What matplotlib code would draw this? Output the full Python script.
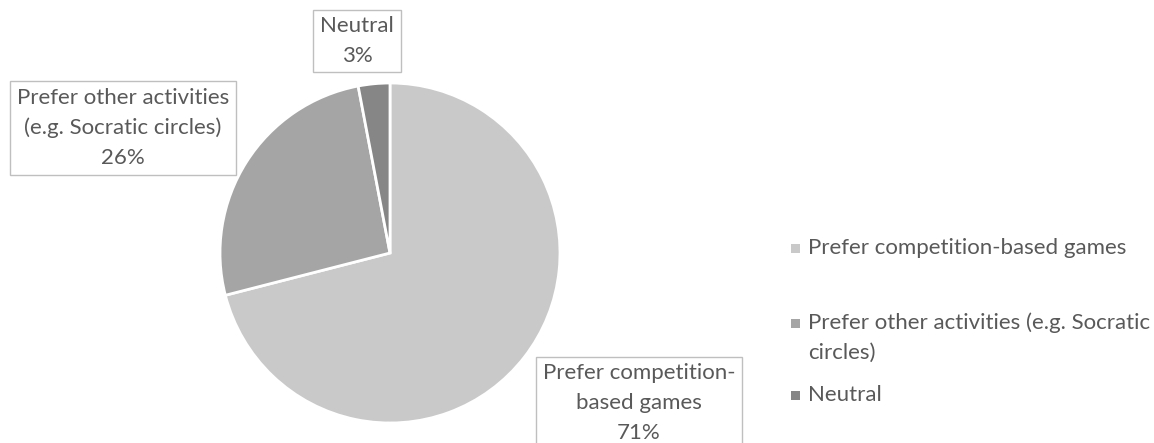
import matplotlib
matplotlib.use('Agg')
import matplotlib.pyplot as plt
from matplotlib.patches import Rectangle

# dados
categorias = ['Prefer competition-based games',
              'Prefer other activities (e.g. Socratic circles)',
              'Neutral']
valores = [71, 26, 3]
rotulos_legenda = ['Prefer competition-based games',
                   'Prefer other activities (e.g. Socratic\ncircles)',
                   'Neutral']
rotulos_fatia = ['Prefer competition-\nbased games\n71%',
                 'Prefer other activities\n(e.g. Socratic circles)\n26%',
                 'Neutral\n3%']
cores = ['#c9c9c9', '#a5a5a5', '#868686']

plt.rcParams['font.family'] = ['Lato', 'DejaVu Sans']
texto_cor = '#595959'
tam = 16
esp = 1.6

W, H = 1154, 443
fig = plt.figure(figsize=(W / 100, H / 100), dpi=100)

# pizza: centro (390, 253) px, raio 170 px
cx, cy, r = 390, 253, 170
ax = fig.add_axes([(cx - r) / W, (H - cy - r) / H, 2 * r / W, 2 * r / H])
ax.pie(valores, colors=cores, startangle=90, counterclock=False, radius=1,
       wedgeprops=dict(edgecolor='white', linewidth=2))
ax.set_xlim(-1, 1)
ax.set_ylim(-1, 1)
ax.axis('off')

# caixas dos rotulos (centro em px)
pos_rotulos = [(639, 403), (123, 128), (357, 41)]
for txt, (px, py) in zip(rotulos_fatia, pos_rotulos):
    ax.text((px - cx) / r, (cy - py) / r, txt, ha='center', va='center',
            multialignment='center', fontsize=tam, color=texto_cor,
            linespacing=esp, clip_on=False,
            bbox=dict(boxstyle='square,pad=0.3', fc='white', ec='#bfbfbf', lw=1))

# legenda manual: (y do marcador, y do texto)
ys_leg = [(248, 248), (323, 337.5), (395, 395)]
for lab, cor, (ym, yt) in zip(rotulos_legenda, cores, ys_leg):
    fig.patches.append(Rectangle(((795 - 4.5) / W, (H - ym - 4.5) / H), 9 / W, 9 / H,
                                 transform=fig.transFigure, fc=cor, ec='none'))
    fig.text(808 / W, (H - yt) / H, lab, ha='left', va='center',
             fontsize=tam, color=texto_cor, linespacing=esp)

plt.savefig('out.png', dpi=100)
